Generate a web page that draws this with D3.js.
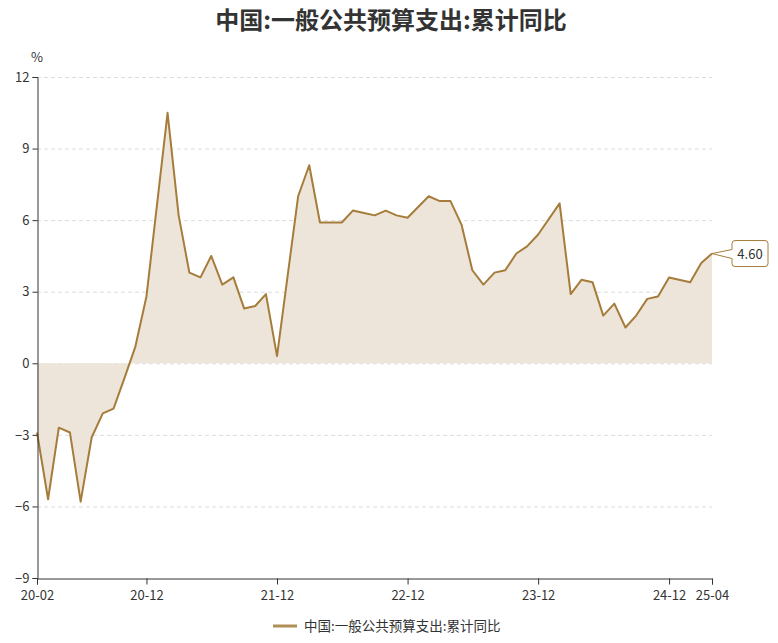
<!DOCTYPE html>
<html><head><meta charset="utf-8">
<script src="https://cdn.jsdelivr.net/npm/d3@7/dist/d3.min.js"></script>
<style>
html,body{margin:0;padding:0;background:#fff;}
svg{display:block;font-family:"Noto Sans CJK SC","Noto Sans",sans-serif;}
</style></head>
<body>
<svg id="chart" width="778" height="643"></svg>
<script>
const title = "中国:一般公共预算支出:累计同比";
const seriesName = "中国:一般公共预算支出:累计同比";
const unit = "%";
const dates = [
 "2020-02","2020-03","2020-04","2020-05","2020-06","2020-07","2020-08","2020-09","2020-10","2020-11","2020-12",
 "2021-02","2021-03","2021-04","2021-05","2021-06","2021-07","2021-08","2021-09","2021-10","2021-11","2021-12",
 "2022-02","2022-03","2022-04","2022-05","2022-06","2022-07","2022-08","2022-09","2022-10","2022-11","2022-12",
 "2023-02","2023-03","2023-04","2023-05","2023-06","2023-07","2023-08","2023-09","2023-10","2023-11","2023-12",
 "2024-02","2024-03","2024-04","2024-05","2024-06","2024-07","2024-08","2024-09","2024-10","2024-11","2024-12",
 "2025-02","2025-03","2025-04"
];
const values = [
 -2.9,-5.7,-2.7,-2.9,-5.8,-3.1,-2.1,-1.9,-0.6,0.7,2.8,
 10.5,6.2,3.8,3.6,4.5,3.3,3.6,2.3,2.4,2.9,0.3,
 7.0,8.3,5.9,5.9,5.9,6.4,6.3,6.2,6.4,6.2,6.1,
 7.0,6.8,6.8,5.8,3.9,3.3,3.8,3.9,4.6,4.9,5.4,
 6.7,2.9,3.5,3.4,2.0,2.5,1.5,2.0,2.7,2.8,3.6,
 3.4,4.2,4.6
];
const xTickDates = ["2020-02","2020-12","2021-12","2022-12","2023-12","2024-12","2025-04"];
const yTicks = [-9,-6,-3,0,3,6,9,12];

const lineColor = "#a67c3a";
const fillColor = "#ede5da";
const textColor = "#333";

const parse = d3.timeParse("%Y-%m");
const endOfMonth = s => { const d = parse(s); return new Date(d.getFullYear(), d.getMonth()+1, 0); };
const data = dates.map((d,i)=>({date:endOfMonth(d), value:values[i]}));

const svg = d3.select("#chart");
const L=37, R=712, T=77, B=578;

const x = d3.scaleTime().domain([endOfMonth(dates[0]), endOfMonth(dates[dates.length-1])]).range([L,R]);
const y = d3.scaleLinear().domain([-9,12]).range([B,T]);

// gridlines
svg.append("g").selectAll("line").data(yTicks.filter(t=>t!==-9)).join("line")
  .attr("x1",L).attr("x2",R).attr("y1",d=>y(d)+0.5).attr("y2",d=>y(d)+0.5)
  .attr("stroke","#dcdcdc").attr("stroke-dasharray","4,3").attr("stroke-width",1);

// area
const area = d3.area().x(d=>x(d.date)).y0(y(0)).y1(d=>y(d.value));
svg.append("path").datum(data).attr("d",area).attr("fill",fillColor);

// line
const line = d3.line().x(d=>x(d.date)).y(d=>y(d.value));
svg.append("path").datum(data).attr("d",line).attr("fill","none")
  .attr("stroke",lineColor).attr("stroke-width",2).attr("stroke-linejoin","round");

// y axis
const yAxis = d3.axisLeft(y).tickValues(yTicks).tickSize(5).tickPadding(3).tickFormat(d3.format("d"));
const gy = svg.append("g").attr("transform",`translate(${L+0.5},0)`).call(yAxis);
gy.select(".domain").attr("stroke","#333");
gy.selectAll(".tick line").attr("stroke","#333");
gy.selectAll("text").attr("fill",textColor).attr("font-size",13).attr("font-family","'Noto Sans CJK SC',sans-serif");

// x axis
const xAxis = d3.axisBottom(x).tickValues(xTickDates.map(endOfMonth)).tickSize(6).tickPadding(6).tickFormat(d3.timeFormat("%y-%m"));
const gx = svg.append("g").attr("transform",`translate(0,${B+0.5})`).call(xAxis);
gx.select(".domain").attr("stroke","#333");
gx.selectAll(".tick line").attr("stroke","#333");
gx.selectAll("text").attr("fill",textColor).attr("font-size",13).attr("font-family","'Noto Sans CJK SC',sans-serif");

// unit
svg.append("text").attr("x",37).attr("y",62).attr("text-anchor","middle")
  .attr("font-size",13).attr("fill",textColor).text(unit);

// title
svg.append("text").attr("x",391).attr("y",29).attr("text-anchor","middle")
  .attr("font-size",24).attr("font-weight","bold").attr("fill",textColor).text(title);

// last value callout
const last = data[data.length-1];
const px = x(last.date), py = y(last.value);
const bx0 = 732, bx1 = 768, by0 = py-13, by1 = py+13, r=3;
const cp = `M${px},${py} L${bx0},${py-4} L${bx0},${by0+r} Q${bx0},${by0} ${bx0+r},${by0} L${bx1-r},${by0} Q${bx1},${by0} ${bx1},${by0+r} L${bx1},${by1-r} Q${bx1},${by1} ${bx1-r},${by1} L${bx0+r},${by1} Q${bx0},${by1} ${bx0},${by1-r} L${bx0},${py+5} Z`;
svg.append("path").attr("d",cp).attr("fill","#fff").attr("stroke",lineColor).attr("stroke-width",1);
svg.append("text").attr("x",(bx0+bx1)/2).attr("y",py+5).attr("text-anchor","middle")
  .attr("font-size",13).attr("fill",textColor).text(d3.format(".2f")(last.value));

// legend
const lg = svg.append("g");
lg.append("line").attr("x1",273).attr("x2",297).attr("y1",626).attr("y2",626)
  .attr("stroke","#b08f56").attr("stroke-width",3);
lg.append("text").attr("x",304).attr("y",631).attr("font-size",13.5).attr("fill",textColor).text(seriesName);
</script>
</body></html>
